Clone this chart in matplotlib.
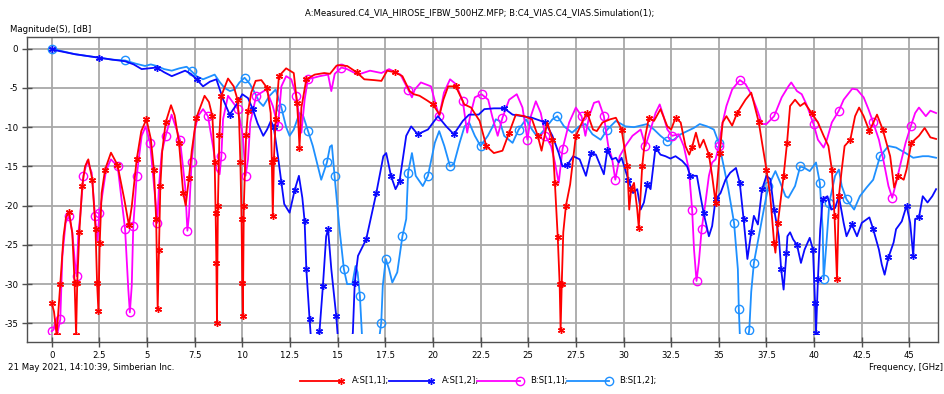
import numpy as np
import matplotlib
matplotlib.use("Agg")
import matplotlib.pyplot as plt
from matplotlib.lines import Line2D
from matplotlib.patches import Rectangle

plt.rcParams['font.family'] = ['DejaVu Sans']
plt.rcParams['font.stretch'] = 'condensed'
plt.rcParams['axes.unicode_minus'] = False

# ---------------- data (GHz, dB) ----------------
a11_f = [0, 0.12, 0.26, 0.45, 0.62, 0.75, 0.91, 1.08, 1.2, 1.28, 1.34, 1.45, 1.6, 1.75, 1.92, 2.13, 2.3, 2.38, 2.45, 2.52,
         2.62, 2.8, 3.11, 3.45, 3.81, 4.05, 4.2, 4.46, 4.7, 4.97, 5.2, 5.36, 5.48, 5.56, 5.63, 5.7, 5.8, 5.98, 6.26, 6.45,
         6.68, 6.9, 7.03, 7.2, 7.35, 7.59, 8.02, 8.25, 8.43, 8.55, 8.6, 8.64, 8.67, 8.72, 8.8, 8.9, 9.25, 9.55, 9.75, 9.83,
         9.9, 9.96, 10.0, 10.03, 10.08, 10.2, 10.3, 10.47, 10.7, 11.0, 11.3, 11.49, 11.55, 11.6, 11.66, 11.75, 11.92, 12.3,
         12.7, 12.87, 12.95, 13.0, 13.1, 13.36, 13.8, 14.3, 14.6, 14.93, 15.0, 15.5, 16.0, 16.4, 16.9, 17.3, 17.6, 18.0,
         18.4, 18.78, 19.0, 19.3, 19.7, 20.0, 20.35, 20.55, 20.8, 21.2, 21.65, 22.0, 22.45, 22.8, 23.2, 23.65, 24.0, 24.35,
         24.8, 25.2, 25.5, 25.7, 26.0, 26.27, 26.4, 26.55, 26.65, 26.7, 26.76, 26.84, 26.98, 27.2, 27.5, 27.9, 28.1, 28.4,
         28.6, 28.9, 29.3, 29.6, 29.9, 30.2, 30.3, 30.4, 30.55, 30.72, 30.8, 30.9, 30.98, 31.15, 31.33, 31.6, 31.94, 32.3,
         32.5, 32.73, 33.0, 33.25, 33.45, 33.6, 33.8, 34.0, 34.2, 34.48, 34.65, 34.83, 35.05, 35.2, 35.4, 35.7, 35.96, 36.4,
         36.7, 36.84, 37.1, 37.27, 37.5, 37.7, 37.9, 37.97, 38.1, 38.23, 38.4, 38.58, 38.74, 39.0, 39.27, 39.5, 39.87, 40.2,
         40.5, 40.75, 40.93, 41.07, 41.2, 41.3, 41.45, 41.6, 41.9, 42.15, 42.36, 42.6, 42.9, 43.3, 43.6, 43.99, 44.2, 44.4,
         44.7, 44.85, 45.1, 45.5, 45.8, 46.1, 46.4]
a11_db = [-32.4, -33.5, -36.5, -30, -23.9, -21.5, -20.8, -23.5, -29.8, -36.5, -29.8, -23.4, -17.5, -15, -14.1, -16.7, -23, -29.8, -33.4, -24.7,
          -18.4, -15.4, -13.25, -14.8, -19.2, -22.5, -20.1, -14.1, -10.5, -9.0, -11.5, -15.4, -21.7, -33.2, -25.6, -17.5, -13, -9.4, -7.2, -8.5,
          -12, -18.4, -20, -16.5, -13, -8.8, -6.0, -6.8, -8.6, -14.5, -20.9, -27.3, -34.9, -20, -11, -6, -3.8, -4.8, -6.5, -9,
          -14.5, -21.7, -29.8, -34.1, -20, -11, -8, -5.6, -4.1, -4.0, -5.0, -8.2, -14.5, -21.3, -14, -9, -3.5, -2.5,
          -3.1, -6.9, -10, -12.6, -7.5, -3.9, -3.3, -3.1, -3.2, -2.2, -2.1, -2.2, -3.0, -3.9, -4.0, -4.1, -2.8, -3.0,
          -3.5, -5.4, -5.8, -6.0, -6.6, -7.1, -8.4, -6.5, -4.8, -4.8, -7.1, -7.5, -9.2, -12.4, -13.3, -13, -10.7, -8.4,
          -8.6, -9, -11.1, -13, -9.4, -11.6, -17.1, -24, -30, -35.8, -30, -23.4, -20, -17.3, -11.1, -9, -8.2, -10.3,
          -10.5, -9.4, -9, -8.8, -10.3, -15, -20.5, -17.9, -17.1, -20.5, -22.8, -18.4, -15, -11.1, -8.8, -9.2, -7.7, -9.9,
          -10.3, -8.8, -9.4, -12.4, -13.5, -12.5, -10.7, -12.6, -11.6, -13.5, -16.2, -19.6, -13.3, -9.4, -8.6, -9.8, -8.2, -6.5,
          -5.6, -6.9, -9.4, -12, -15.4, -18.8, -24.7, -26, -22.2, -19.6, -16.2, -12, -7.3, -6.5, -7.3, -6.9, -8.2, -9.4,
          -11.1, -12.4, -15.4, -21.3, -29.4, -18.8, -15.4, -12.4, -11.6, -8.6, -7.5, -8.6, -10.5, -8.4, -10.3, -13.7, -17.7, -16.2,
          -16.7, -15.4, -12, -11.1, -10.1, -11.3, -11.5]

a12_f = [0, 1.22, 2.48, 3.2, 3.85, 4.3, 4.72, 5.1, 5.5, 5.9, 6.3, 6.7, 7.0, 7.3, 7.6, 7.94, 8.3, 8.64, 9.0, 9.34, 9.7, 10.0,
         10.3, 10.55, 10.8, 11.1, 11.3, 11.5, 11.65, 11.87, 12.05, 12.2, 12.48, 12.75, 12.97, 13.15, 13.27, 13.36, 13.53,
         13.62, 13.9, 14.05, 14.23, 14.4, 14.5, 14.67, 14.93, 15.02, 15.7, 15.8, 15.9, 16.07, 16.5, 17.03, 17.4, 17.55, 17.8,
         18.04, 18.25, 18.6, 18.86, 19.2, 19.74, 20.26, 20.7, 21.1, 21.57, 21.9, 22.4, 22.7, 23.2, 23.74, 24.18, 24.7, 25.2,
         25.9, 26.27, 26.6, 26.8, 27.06, 27.36, 27.7, 28.03, 28.3, 28.55, 28.8, 28.97, 29.15, 29.39, 29.6, 29.75, 29.9, 30.25,
         30.5, 30.72, 30.9, 31.07, 31.24, 31.42, 31.68, 31.94, 32.2, 32.46, 32.73, 33.08, 33.34, 33.5, 33.85, 34.04, 34.2,
         34.48, 34.65, 34.83, 35.09, 35.35, 35.6, 35.9, 36.1, 36.3, 36.5, 36.7, 36.84, 37.05, 37.27, 37.5, 37.7, 37.9, 38.15,
         38.27, 38.4, 38.55, 38.6, 38.74, 38.9, 39.1, 39.31, 39.5, 39.77, 39.94, 40.05, 40.1, 40.2, 40.32, 40.45, 40.7, 40.9,
         41.1, 41.3, 41.55, 41.7, 41.98, 42.25, 42.5, 42.9, 43.1, 43.4, 43.55, 43.7, 43.9, 44.17, 44.3, 44.6, 44.85, 45.04,
         45.2, 45.3, 45.5, 45.7, 45.95, 46.2, 46.4]
a12_db = [-0.1, -0.7, -1.15, -1.4, -1.6, -2.0, -2.6, -2.5, -2.4, -3.0, -3.5, -3.1, -2.8, -3.2, -3.9, -4.8, -4.2, -3.9, -6.5, -8.4, -7.1, -5.8,
          -6.3, -7.7, -9.5, -11.1, -10.3, -9.2, -10, -13.7, -17, -19.8, -20.9, -18, -16.2, -19, -22, -28.1, -34.5,
          -37.5, -37.5, -36, -30.2, -23.9, -23, -28.1, -34.1, -37, -37.5, -36.2, -29.8, -26.4, -24.3, -18.4, -13.7, -13.3, -16.2,
          -17.9, -16.9, -11.1, -9.9, -10.9, -10.3, -8.6, -9.9, -10.9, -9.2, -8.4, -8.4, -7.7, -7.6, -7.6, -8.4, -8.6, -8.8,
          -9.4, -11.1, -13.3, -15, -14.8, -13.7, -14.1, -16.2, -13.3, -13.5, -15, -16, -12.9, -14.1, -13.9, -14.5, -13.9, -16.7,
          -18.4, -17.9, -20.5, -19.6, -17.3, -17.9, -12.6, -13.5, -13.7, -14, -13.7, -14.3, -15, -16.2, -16.2, -18.8, -20.9,
          -23.9, -22.6, -19.2, -18.4, -16.7, -15.8, -15.2, -17.1, -21.7, -26.8, -23.4, -21.3, -22.4, -17.9, -16.2, -16.6, -20.5, -23.9,
          -28.1, -30.7, -26, -23.9, -23.4, -24.3, -25, -27.3, -25.6, -24.1, -25.6, -32.4, -36.2, -29.4, -23, -19.2, -18.8, -20.5,
          -20.3, -18.8, -22.2, -23.9, -22.4, -23.9, -22.2, -21.5, -23, -25.6, -27.5, -28.8, -26.6, -24.7, -23, -22, -20, -22.2,
          -26.4, -21.7, -21.5, -18.8, -19.6, -18.8, -17.9]

b11_f = [0, 0.1, 0.2, 0.3, 0.45, 0.56, 0.73, 0.91, 1.08, 1.22, 1.31, 1.4, 1.49, 1.66, 1.87, 2.1, 2.27, 2.4, 2.5, 2.62, 2.85,
         3.11, 3.46, 3.85, 4.02, 4.1, 4.2, 4.28, 4.46, 4.72, 4.93, 5.16, 5.42, 5.54, 5.63, 5.77, 5.98, 6.29, 6.73, 7.0, 7.12,
         7.2, 7.34, 7.5, 7.67, 7.94, 8.2, 8.46, 8.64, 8.81, 8.9, 8.99, 9.25, 9.77, 10.03, 10.17, 10.3, 10.42, 10.73, 11.26,
         11.6, 11.87, 12.05, 12.3, 12.57, 12.83, 13.1, 13.27, 13.44, 14.06, 14.5, 14.67, 14.85, 15.2, 15.5, 16.07, 16.7,
         17.3, 17.7, 18.3, 18.7, 18.9, 19.05, 19.37, 19.9, 20.17, 20.33, 20.58, 20.9, 21.2, 21.57, 21.8, 21.95, 22.2, 22.55,
         22.9, 23.13, 23.4, 23.65, 24.0, 24.4, 24.7, 24.96, 25.14, 25.4, 25.66, 25.9, 26.2, 26.4, 26.6, 26.8, 27.15, 27.5,
         27.8, 28.0, 28.2, 28.45, 28.7, 28.97, 29.2, 29.4, 29.57, 29.8, 30.1, 30.47, 30.9, 31.15, 31.42, 31.68, 31.9, 32.1,
         32.3, 32.55, 32.9, 33.16, 33.43, 33.6, 33.7, 33.83, 33.95, 34.1, 34.3, 34.48, 34.65, 34.83, 35.0, 35.2, 35.4, 35.7,
         36.1, 36.4, 36.7, 37.0, 37.27, 37.5, 37.9, 38.3, 38.65, 38.8, 39.1, 39.35, 39.6, 39.97, 40.2, 40.5, 40.67, 40.93,
         41.3, 41.55, 42.0, 42.25, 42.6, 42.85, 43.1, 43.4, 43.66, 43.9, 44.1, 44.3, 44.55, 44.8, 45.07, 45.3, 45.5, 45.86,
         46.1, 46.4]
b11_db = [-36, -35.8, -34.5, -36.3, -34.5, -26.4, -22.2, -21.3, -23.4, -27.3, -29, -23.4, -21.5, -16.2, -14.3, -15.8, -21.3, -24.5, -21, -19.2, -15.5,
          -14.1, -15, -23, -30.7, -33.6, -30.2, -22.6, -16.2, -11.1, -9.9, -12, -18.8, -22.2, -17.5, -13.3, -11.1, -8.4, -11.6, -17.5, -23.2,
          -21.3, -14.5, -10.5, -8.6, -7.7, -8.6, -12.4, -15.4, -16, -13.7, -9, -6, -7.7, -11.1, -16.2, -14.1, -9.4, -6, -5.2,
          -7.3, -9.9, -4.8, -3.5, -3.9, -6, -10.7, -6.5, -3.9, -3.5, -3.3, -5.4, -3.2, -2.4, -2.6, -3.3, -2.8,
          -3.1, -2.6, -3.3, -5.2, -6.2, -5.2, -4.3, -4.8, -7.3, -8.6, -5.6, -3.9, -4.5, -6.7, -10.7, -8.6, -6.2, -5.8,
          -6.5, -8.8, -11.1, -8.8, -6.5, -5.8, -7.5, -11.6, -8.6, -6.7, -8.2, -11.1, -12.4, -14.5, -17.1, -12.8, -9.4, -7.5,
          -8.6, -11.1, -8.6, -6.9, -6.7, -8.6, -12.4, -14, -16.7, -13.7, -12.4, -11.1, -10.3, -12.4, -10.3, -8.2, -7.1, -8.6,
          -10.3, -11.1, -10.9, -12.4, -15.4, -20.5, -25.6, -29.6, -27.3, -23, -19.6, -16.2, -14.5, -14.1, -12.4, -9.4, -7.3, -5.2,
          -4, -4.5, -5.8, -7.7, -9.6, -9.6, -8.6, -6.2, -4.8, -4.3, -5.4, -5.8, -7.1, -9.6, -11.6, -12.6, -11.6, -9.4,
          -7.9, -6.5, -5.1, -5.2, -6.2, -7.7, -9.4, -11.6, -14.5, -17.5, -19, -17.1, -14.5, -12, -9.9, -8.2, -7.5, -8.6,
          -7.9, -8.2]

b12_f = [0, 1.22, 2.48, 3.2, 3.85, 4.4, 4.9, 5.2, 5.5, 5.9, 6.3, 6.7, 7.08, 7.35, 7.6, 7.94, 8.25, 8.55, 8.8, 9.07, 9.35, 9.6,
         9.85, 10.12, 10.4, 10.65, 10.9, 11.1, 11.43, 11.75, 12.05, 12.3, 12.48, 12.7, 13.0, 13.2, 13.45, 13.7, 14.14, 14.44,
         14.6, 14.7, 14.84, 15.1, 15.33, 15.5, 15.77, 15.94, 16.05, 16.17, 16.3, 17.15, 17.29, 17.37, 17.53, 17.7, 17.87,
         18.13, 18.4, 18.6, 18.7, 18.9, 19.1, 19.47, 19.74, 20.1, 20.33, 20.6, 20.9, 21.1, 21.4, 21.66, 21.9, 22.2, 22.5,
         22.88, 23.14, 23.3, 23.5, 23.74, 24.18, 24.5, 24.88, 25.2, 25.5, 25.85, 26.27, 26.53, 26.88, 27.3, 27.67, 28.0, 28.37,
         28.8, 29.15, 29.6, 30.1, 30.55, 31.24, 31.6, 31.94, 32.3, 32.64, 33.0, 33.34, 33.69, 34.0, 34.39, 34.74, 35.0, 35.26,
         35.5, 35.8, 36.0, 36.05, 36.12, 36.5, 36.6, 36.7, 36.84, 37.1, 37.36, 37.6, 37.97, 38.23, 38.5, 38.65, 39.0, 39.27,
         39.5, 39.77, 40.1, 40.3, 40.45, 40.5, 40.65, 40.8, 41.1, 41.3, 41.45, 41.7, 42.1, 42.4, 42.75, 43.1, 43.46, 43.9,
         44.3, 44.8, 45.2, 45.7, 46.0, 46.4]
b12_db = [0, -0.7, -1.15, -1.4, -1.5, -1.9, -2.2, -2.0, -2.2, -2.6, -2.8, -2.5, -2.3, -2.9, -3.5, -3.9, -3.6, -3.3, -4.2, -5.0, -5.4, -5.2,
          -4.3, -3.7, -4.5, -5.6, -6.8, -7.3, -6.0, -5.2, -7.5, -10, -11.1, -10.3, -8.2, -8.6, -10.5, -12.4, -16.7, -14.5,
          -12.5, -12.3, -16.2, -23, -28.1, -30, -30, -27.7, -28.5, -31.5, -37.5, -37.5, -34.9, -30.2, -26.8, -28.1, -29.8,
          -28.5, -23.9, -21.7, -15.8, -13.3, -16.2, -17.5, -16.2, -12, -10.5, -12.4, -15, -14.7, -12, -9.9, -9.4, -11.1, -12.4,
          -11.1, -9.9, -9, -9.2, -11.1, -12, -10.3, -9, -10.3, -11.3, -10.3, -9, -8.6, -9.9, -10.7, -9.9, -9.6, -10.9,
          -11.6, -10.3, -9.2, -9.9, -10, -9.6, -10.3, -11.1, -11.8, -11.6, -10.9, -10.5, -10.1, -9.6, -9.9, -10.3, -12, -15,
          -17.9, -22.2, -28.1, -33.2, -37.5, -37.5, -35.8, -31, -27.3, -23.9, -20.5, -17.5, -15.6, -17.1, -18.8, -19, -17.5, -15,
          -15.2, -15.6, -14.5, -17.1, -23, -29.4, -24.7, -19.6, -16.2, -15.4, -17.5, -19.2, -20.5, -18.8, -17.7, -16.7, -13.7, -12.4,
          -12.6, -13.3, -13.9, -13.7, -13.7, -13.9]

x_ticks = [0, 2.5, 5, 7.5, 10, 12.5, 15, 17.5, 20, 22.5, 25, 27.5, 30, 32.5, 35, 37.5, 40, 42.5, 45]
x_tick_labels = ['0', '2.5', '5', '7.5', '10', '12.5', '15', '17.5', '20', '22.5', '25', '27.5', '30',
                 '32.5', '35', '37.5', '40', '42.5', '45']
y_ticks = [0, -5, -10, -15, -20, -25, -30, -35]
y_tick_labels = ['0', '-5', '-10', '-15', '-20', '-25', '-30', '-35']

series_labels = ['A:S[1,1];', 'A:S[1,2];', 'B:S[1,1];', 'B:S[1,2];']
title_text = 'A:Measured.C4_VIA_HIROSE_IFBW_500HZ.MFP; B:C4_VIAS.C4_VIAS.Simulation(1);'

# ---------------- figure ----------------
W, H = 945, 394
FS = 6.8
fig = plt.figure(figsize=(W / 100, H / 100), dpi=100)
fig.patch.set_facecolor('white')
L, R, T, B = 27.3, 938, 36.7, 341.7
ax = fig.add_axes([L / W, 1 - B / H, (R - L) / W, (B - T) / H])
ax.set_xlim(-1.28, 46.5)
ax.set_ylim(-37.34, 1.53)

edge = '#505050'
for s in ax.spines.values():
    s.set_color(edge)
    s.set_linewidth(1.0)
ax.set_xticks(x_ticks)
ax.set_xticklabels(x_tick_labels)
ax.set_yticks(y_ticks)
ax.set_yticklabels(y_tick_labels)
ax.tick_params(direction='inout', length=7, width=1, color=edge, labelsize=FS,
               labelcolor='black', pad=3)
ax.grid(True, color='#a8a8a8', linewidth=1.3)
ax.set_axisbelow(True)

clip = Rectangle((-5, -36.4), 60, 45, transform=ax.transData)

red = '#ff0000'
blue = '#0a0aff'
mag = '#ff00ff'
lblue = '#1e90ff'

star = (6, 2, 0)
MS_O, MS_S = 6.0, 5.0
styles = [
    (b12_f, b12_db, lblue, 'o', 0.075),
    (b11_f, b11_db, mag, 'o', 0.075),
    (a12_f, a12_db, blue, star, 0.055),
    (a11_f, a11_db, red, star, 0.055),
]
for f, d, c, m, me in styles:
    ln, = ax.plot(f, d, color=c, lw=1.3, marker=m, markevery=me,
                  ms=(MS_O if m == 'o' else MS_S), mfc=('none' if m == 'o' else c),
                  mec=c, mew=1.0)
    ln.set_clip_path(clip)

# ---------------- texts ----------------
fig.text(480 / W, 1 - 13 / H, title_text, ha='center', va='center', fontsize=FS)
fig.text(10 / W, 1 - 29 / H, 'Magnitude(S), [dB]', ha='left', va='center', fontsize=FS)
fig.text(8 / W, 1 - 367 / H, '21 May 2021, 14:10:39, Simberian Inc.', ha='left', va='center', fontsize=FS)
fig.text(943 / W, 1 - 367 / H, 'Frequency, [GHz]', ha='right', va='center', fontsize=FS)

# ---------------- legend ----------------
leg_y = 1 - 381 / H
leg = [(300, 341, 352, red, star), (389, 431, 442, blue, star),
       (477, 520, 530, mag, 'o'), (567, 609, 619, lblue, 'o')]
for (x0, x1, xt, c, m), lab in zip(leg, series_labels):
    fig.add_artist(Line2D([x0 / W, x1 / W], [leg_y, leg_y], transform=fig.transFigure,
                          color=c, lw=1.3))
    fig.add_artist(Line2D([x1 / W], [leg_y], transform=fig.transFigure, color=c,
                          marker=m, ms=(MS_O if m == 'o' else MS_S), mfc=('none' if m == 'o' else c),
                          mec=c, mew=1.0, lw=0))
    fig.text(xt / W, leg_y, lab, ha='left', va='center', fontsize=FS)

fig.savefig('out.png', dpi=100)
